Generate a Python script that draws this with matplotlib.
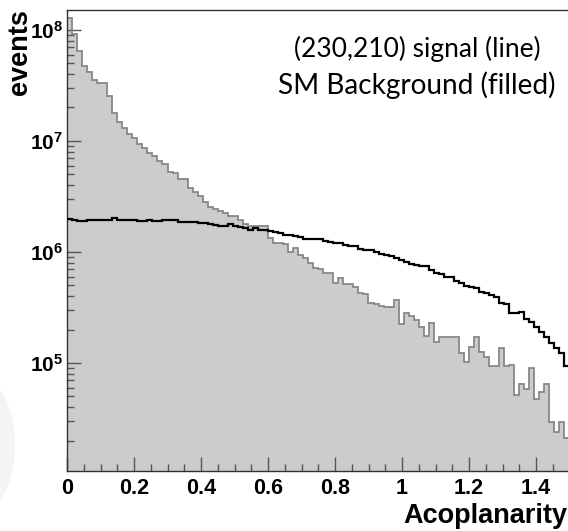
import numpy as np
import matplotlib
matplotlib.use("Agg")
import matplotlib.pyplot as plt
from matplotlib.patches import Ellipse
from matplotlib.ticker import LogLocator, MultipleLocator, NullFormatter

plt.rcParams['font.family'] = ['Liberation Sans', 'DejaVu Sans']
plt.rcParams['font.weight'] = 'bold'

# histogram range and binning (100 bins over 0 - 1.5)
x_min, x_max, n_bins = 0.0, 1.5, 100

# SM background, events per bin
background = [
    1.27e8, 9.1e7, 6.4e7, 4.76e7, 4.2e7, 3.55e7, 3.35e7, 3.3e7, 2.54e7, 1.77e7,
    1.49e7, 1.32e7, 1.16e7, 1.06e7, 9.4e6, 8.6e6, 7.85e6, 7.3e6, 6.6e6, 6.2e6,
    5.3e6, 5.1e6, 4.5e6, 4.5e6, 3.8e6, 3.45e6, 3.16e6, 2.84e6, 2.56e6, 2.44e6,
    2.34e6, 2.23e6, 2.11e6, 2.11e6, 1.94e6, 1.78e6, 1.7e6, 1.7e6, 1.72e6, 1.72e6,
    1.33e6, 1.2e6, 1.2e6, 1.18e6, 1.0e6, 1.08e6, 9.4e5, 8.8e5, 7.9e5, 7.1e5,
    7.0e5, 6.4e5, 6.4e5, 5.3e5, 5.8e5, 5.15e5, 5.1e5, 4.8e5, 4.25e5, 4.2e5,
    3.5e5, 3.4e5, 3.27e5, 3.2e5, 3.2e5, 3.7e5, 2.24e5, 2.8e5, 2.65e5, 2.44e5,
    2.12e5, 1.75e5, 2.28e5, 1.56e5, 1.73e5, 1.73e5, 1.71e5, 1.71e5, 1.24e5, 1.01e5,
    1.4e5, 1.73e5, 1.26e5, 1.14e5, 9.4e4, 9.3e4, 1.36e5, 9.3e4, 9.6e4, 5.15e4,
    6.4e4, 5.8e4, 9.1e4, 4.75e4, 5.45e4, 6.5e4, 2.96e4, 2.4e4, 2.92e4, 2.12e4,
]

# (230,210) signal, events per bin
signal = [
    1.97e6, 1.95e6, 1.9e6, 1.9e6, 1.93e6, 1.93e6, 1.92e6, 1.93e6, 1.94e6, 2.01e6,
    1.92e6, 1.93e6, 1.93e6, 1.94e6, 1.91e6, 1.91e6, 1.92e6, 1.9e6, 1.91e6, 1.92e6,
    1.95e6, 1.93e6, 1.86e6, 1.86e6, 1.85e6, 1.85e6, 1.84e6, 1.84e6, 1.8e6, 1.74e6,
    1.73e6, 1.72e6, 1.79e6, 1.7e6, 1.68e6, 1.63e6, 1.58e6, 1.63e6, 1.58e6, 1.58e6,
    1.55e6, 1.5e6, 1.47e6, 1.43e6, 1.42e6, 1.38e6, 1.37e6, 1.31e6, 1.3e6, 1.3e6,
    1.3e6, 1.26e6, 1.22e6, 1.21e6, 1.2e6, 1.16e6, 1.13e6, 1.12e6, 1.06e6, 1.04e6,
    1.04e6, 9.9e5, 9.6e5, 9.3e5, 9.2e5, 8.9e5, 8.5e5, 8.2e5, 7.8e5, 7.65e5,
    7.5e5, 7.5e5, 6.9e5, 6.5e5, 6.35e5, 6.0e5, 5.9e5, 5.5e5, 5.2e5, 4.95e5,
    4.8e5, 4.7e5, 4.4e5, 4.25e5, 4.1e5, 3.9e5, 3.5e5, 3.4e5, 2.8e5, 2.8e5,
    2.86e5, 2.48e5, 2.36e5, 2.12e5, 1.91e5, 1.71e5, 1.5e5, 1.36e5, 1.22e5, 9.4e4,
]

edges = np.linspace(x_min, x_max, n_bins + 1)

W, H = 568, 531
fig = plt.figure(figsize=(W / 100, H / 100), dpi=100)

# faint grey blob on the left margin
fig.patches.append(Ellipse((-14 / W, 1 - 445 / H), 58 / W, 125 / H,
                           transform=fig.transFigure, facecolor='#f4f4f4',
                           edgecolor='none', zorder=0))

ax = fig.add_axes([67 / W, 60 / H, 502.5 / W, 461 / H])

ax.stairs(background, edges, baseline=1e3, fill=True, color='#cccccc', zorder=1)
ax.stairs(background, edges, baseline=1e3, color='#888888', linewidth=1.3, zorder=2)
ax.stairs(signal, edges, baseline=None, color='black', linewidth=1.6, zorder=3)

ax.set_yscale('log')
ax.set_xlim(x_min, x_max)
ax.set_ylim(1.064e4, 1.51e8)

ax.xaxis.set_major_locator(MultipleLocator(0.2))
ax.xaxis.set_minor_locator(MultipleLocator(0.05))
ax.xaxis.set_major_formatter(plt.FuncFormatter(lambda v, p: f"{v:g}"))
ax.yaxis.set_major_locator(LogLocator(base=10, numticks=10))
ax.yaxis.set_minor_locator(LogLocator(base=10, subs=np.arange(2, 10), numticks=20))
ax.yaxis.set_minor_formatter(NullFormatter())

ax.tick_params(which='both', direction='in', color='#555555', top=False, right=False)
ax.tick_params(which='major', length=10, width=1.0)
ax.tick_params(which='minor', length=5, width=1.0)
ax.tick_params(axis='x', labelsize=15.5, pad=5)
ax.tick_params(axis='y', labelsize=15, pad=3)
for lab in ax.get_xticklabels() + ax.get_yticklabels():
    lab.set_fontweight('bold')

for sp in ax.spines.values():
    sp.set_color('#333333')
    sp.set_linewidth(1.0)

fig.text(20 / W, 1 - 9 / H, 'events', rotation=90, ha='center', va='top',
         fontsize=19.5, fontweight='bold')
fig.text(567 / W, 1 - 523 / H, 'Acoplanarity', ha='right', va='baseline',
         fontsize=19.5, fontweight='bold')

ax.text(417 / W, 1 - 57 / H, '(230,210) signal (line)', transform=fig.transFigure,
        ha='center', va='baseline', fontsize=19, fontweight='normal', family='Lato')
ax.text(417 / W, 1 - 94 / H, 'SM Background (filled)', transform=fig.transFigure,
        ha='center', va='baseline', fontsize=20.2, fontweight='normal', family='Lato')

fig.savefig('out.png', dpi=100)
